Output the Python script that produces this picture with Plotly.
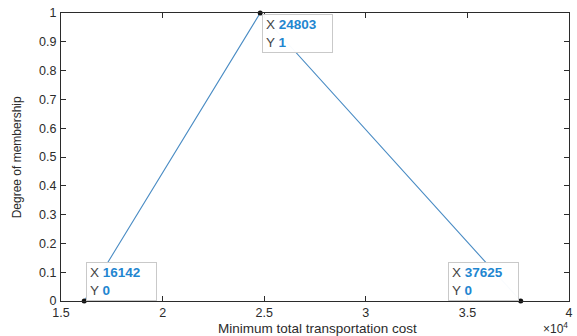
import plotly.graph_objects as go

# Data
cost = [16142, 24803, 37625]
membership = [0, 1, 0]
x_tick_vals = [15000, 20000, 25000, 30000, 35000, 40000]
x_tick_text = ["1.5", "2", "2.5", "3", "3.5", "4"]
y_tick_vals = [0, 0.1, 0.2, 0.3, 0.4, 0.5, 0.6, 0.7, 0.8, 0.9, 1]
y_tick_text = ["0", "0.1", "0.2", "0.3", "0.4", "0.5", "0.6", "0.7", "0.8", "0.9", "1"]
x_title = "Minimum total transportation cost"
y_title = "Degree of membership"

FONT = "Liberation Sans, Arial, Helvetica, sans-serif"
AX = "#2b2b2b"
BLUE = "#1f86d0"

fig = go.Figure()
fig.add_trace(go.Scatter(
    x=cost, y=membership, mode="lines+markers",
    line=dict(color="#4a8cc4", width=1.1),
    marker=dict(color="#111111", size=5),
    cliponaxis=False, hoverinfo="skip", showlegend=False,
))

tips = [
    dict(i=0, xanchor="left", yanchor="bottom", xshift=2, yshift=0),
    dict(i=1, xanchor="left", yanchor="top", xshift=2, yshift=-1),
    dict(i=2, xanchor="right", yanchor="bottom", xshift=-2, yshift=0),
]
annotations = []
for t in tips:
    i = t["i"]
    txt = (f"<span style='color:#444'>X</span> <b><span style='color:{BLUE}'>{cost[i]}</span></b><br>"
           f"<span style='color:#444'>Y</span> <b><span style='color:{BLUE}'>{membership[i]}</span></b>")
    annotations.append(dict(
        x=cost[i], y=membership[i], xref="x", yref="y", text=txt, showarrow=False,
        xanchor=t["xanchor"], yanchor=t["yanchor"], xshift=t["xshift"], yshift=t["yshift"],
        align="left", valign="middle", width=63, height=31, borderpad=3,
        bgcolor="rgba(255,255,255,0.97)", bordercolor="#c9c9c9", borderwidth=1,
        font=dict(family=FONT, size=13.5, color="#444"),
    ))

# pixel-placed labels (converted to paper coords below)
pix_labels = [
    dict(x=320, y=328, text=x_title, size=13.5, angle=0),
    dict(x=17, y=157, text=y_title, size=12, angle=-90),
    dict(x=559, y=328, text="\u00d710<sup>4</sup>", size=12, angle=0),
]
L, R, T, B = 61, 4, 13, 35
W, H = 577, 336
pw, ph = W - L - R, H - T - B
for p in pix_labels:
    annotations.append(dict(
        xref="paper", yref="paper", x=(p["x"] - L) / pw, y=(H - B - p["y"]) / ph,
        xanchor="center", yanchor="middle", text=p["text"], showarrow=False,
        textangle=p["angle"], font=dict(family=FONT, size=p["size"], color=AX),
    ))

fig.update_layout(
    width=W, height=H, margin=dict(l=L, r=R, t=T, b=B, pad=0),
    paper_bgcolor="white", plot_bgcolor="white",
    font=dict(family=FONT, size=13, color=AX),
    annotations=annotations,
    xaxis=dict(range=[15000, 40000], tickvals=x_tick_vals, ticktext=x_tick_text,
               showgrid=False, zeroline=False, showline=True, linecolor=AX, linewidth=1,
               mirror="ticks", ticks="inside", ticklen=5, tickcolor=AX,
               ticklabelstandoff=0,
               tickfont=dict(size=12.5, color=AX), fixedrange=True),
    yaxis=dict(range=[0, 1], tickvals=y_tick_vals, ticktext=y_tick_text,
               showgrid=False, zeroline=False, showline=True, linecolor=AX, linewidth=1,
               mirror="ticks", ticks="inside", ticklen=5, tickcolor=AX,
               ticklabelstandoff=1,
               tickfont=dict(size=12.5, color=AX), fixedrange=True),
)

fig.write_html("out.html", config={"displayModeBar": False},
               post_script="document.body.style.margin='0';document.body.style.overflow='hidden';")
